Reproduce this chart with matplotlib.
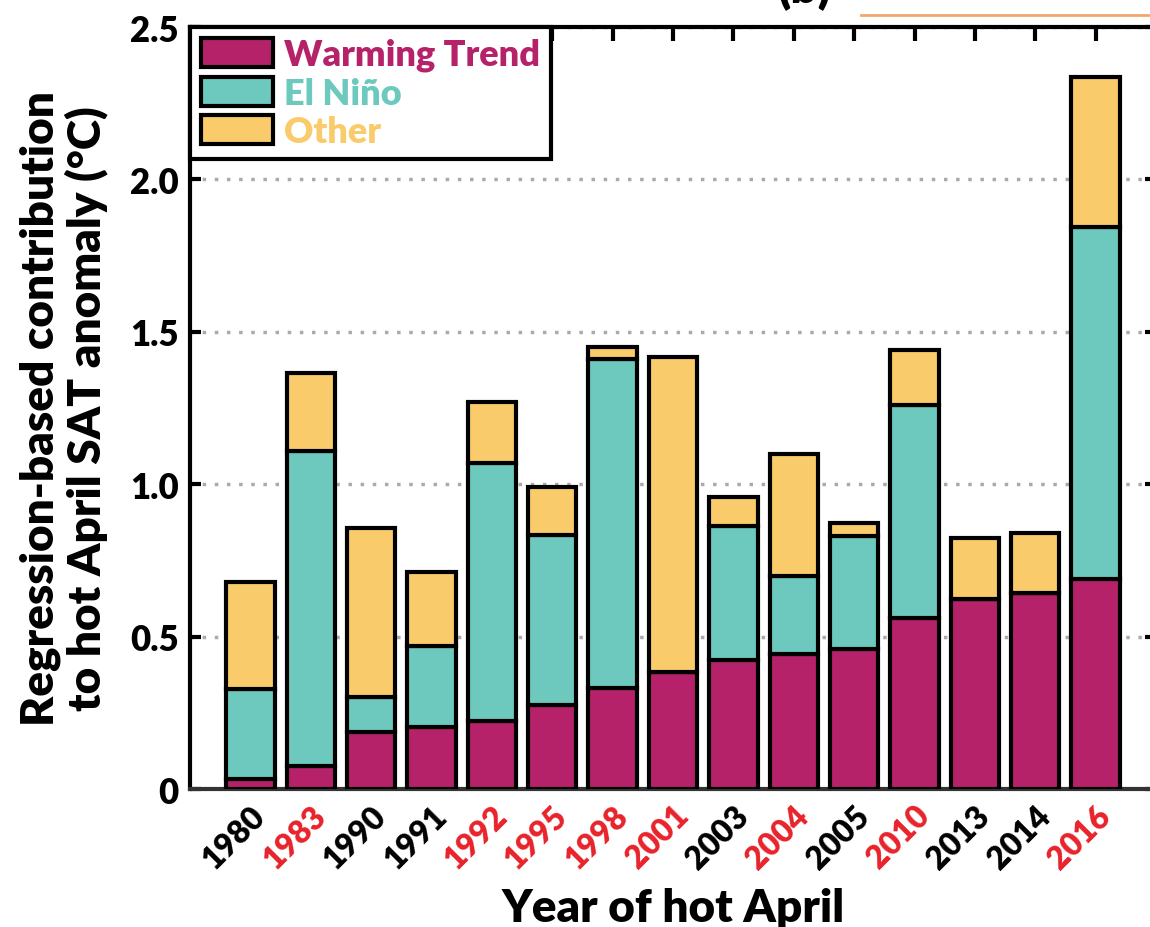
import matplotlib.pyplot as plt
from matplotlib.patches import Patch
from matplotlib.lines import Line2D
import numpy as np

years = ['1980', '1983', '1990', '1991', '1992', '1995', '1998', '2001',
         '2003', '2004', '2005', '2010', '2013', '2014', '2016']
red_years = ['1983', '1992', '1995', '1998', '2001', '2004', '2010', '2016']
warming = [0.033, 0.075, 0.187, 0.203, 0.223, 0.276, 0.331, 0.384,
           0.423, 0.443, 0.459, 0.561, 0.623, 0.643, 0.689]
elnino = [0.295, 1.035, 0.115, 0.266, 0.847, 0.557, 1.079, 0.0,
          0.440, 0.256, 0.371, 0.699, 0.0, 0.0, 1.155]
other = [0.352, 0.255, 0.554, 0.243, 0.200, 0.157, 0.040, 1.033,
         0.095, 0.400, 0.043, 0.180, 0.200, 0.197, 0.492]

c_warm = '#B5226A'
c_nino = '#6DC8BE'
c_other = '#FACB6A'

plt.rcParams['font.family'] = ['Lato', 'DejaVu Sans']
plt.rcParams['font.weight'] = 'heavy'

fig = plt.figure(figsize=(11.5, 9.28), dpi=100)
ax = fig.add_axes([190/1150, 1 - 790/928, (1156-190)/1150, (790-28)/928])

x = np.arange(len(years))
w = 0.8
ekw = dict(edgecolor='black', linewidth=3, width=w, zorder=3)
ax.bar(x, warming, color=c_warm, **ekw)
ax.bar(x, elnino, bottom=warming, color=c_nino, **ekw)
bot2 = np.array(warming) + np.array(elnino)
ax.bar(x, other, bottom=bot2, color=c_other, **ekw)

ax.set_xlim(-1, 15)
ax.set_ylim(0, 2.5)
ax.set_yticks([0, 0.5, 1.0, 1.5, 2.0, 2.5])
ax.set_yticklabels(['0', '0.5', '1.0', '1.5', '2.0', '2.5'], fontsize=25, fontweight='heavy')
ax.set_xticks(x)
ax.set_xticklabels(years, rotation=45, ha='right', rotation_mode='anchor', fontsize=23, fontweight='heavy')
for lab in ax.get_xticklabels():
    if lab.get_text() in red_years:
        lab.set_color('#E8222A')

ax.yaxis.grid(True, linestyle=(0, (1, 2.5)), color='#AAAAAA', linewidth=2.5, zorder=0)
ax.set_axisbelow(True)
ax.tick_params(axis='y', direction='in', length=8, width=3, right=True, pad=8)
ax.tick_params(axis='x', direction='in', length=10, width=3, top=True, bottom=False, pad=8)

for s in ['left', 'top', 'bottom', 'right']:
    ax.spines[s].set_linewidth(3)
ax.spines['bottom'].set_color('#333333')

ax.set_xlabel('Year of hot April', fontsize=33, fontweight='heavy', labelpad=10)
ax.set_ylabel('Regression-based contribution\nto hot April SAT anomaly (\u00b0C)',
              fontsize=33, fontweight='heavy', labelpad=16, linespacing=1.1)

handles = [Patch(facecolor=c_warm, edgecolor='black', linewidth=3),
           Patch(facecolor=c_nino, edgecolor='black', linewidth=3),
           Patch(facecolor=c_other, edgecolor='black', linewidth=3)]
leg = ax.legend(handles, ['Warming Trend', 'El Ni\u00f1o', 'Other'],
                loc='upper left', borderaxespad=0, fancybox=False,
                labelcolor=[c_warm, c_nino, c_other],
                prop={'weight': 'heavy', 'size': 26},
                handlelength=2.0, handleheight=0.85, handletextpad=0.3,
                labelspacing=0.15, borderpad=0.3)
leg.get_frame().set_edgecolor('black')
leg.get_frame().set_linewidth(3)
leg.get_frame().set_alpha(1)
leg.set_zorder(5)

# partial title and stray line from the panel above
fig.text(805/1150, 1 - 3/928, '(b)', fontsize=34, fontweight='heavy', ha='center', va='baseline')
fig.add_artist(Line2D([861/1150, 1.0], [1 - 16/928, 1 - 16/928], color='#F4A66A', linewidth=2))

fig.savefig('out.png', dpi=100)
